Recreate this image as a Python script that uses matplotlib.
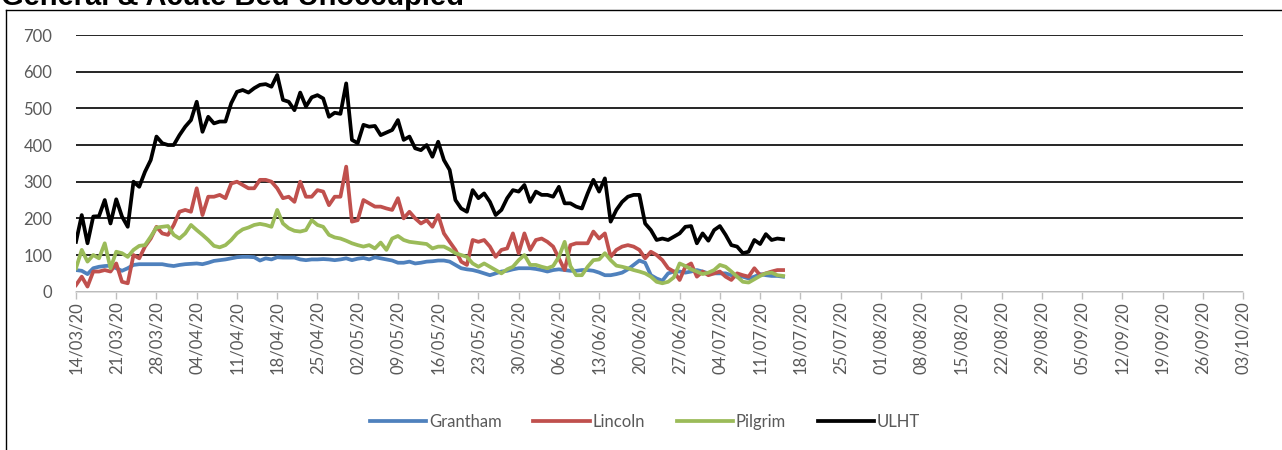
import numpy as np
import pandas as pd
import matplotlib.pyplot as plt
import matplotlib.dates as mdates
from matplotlib.lines import Line2D

# daily unoccupied G&A beds, from 14/03/20
grantham = [59, 57, 48, 64, 68, 70, 71, 64, 57, 64, 73, 75, 75, 75, 75, 75, 72, 70, 73, 75,
            76, 77, 75, 79, 84, 86, 88, 91, 94, 95, 95, 94, 85, 91, 88, 94, 93, 93, 93, 88,
            86, 88, 88, 89, 88, 86, 88, 91, 86, 90, 92, 88, 94, 91, 88, 85, 79, 79, 82, 77,
            79, 82, 83, 85, 85, 82, 73, 64, 61, 59, 55, 50, 45, 50, 55, 57, 61, 64, 64, 64,
            62, 59, 55, 59, 61, 59, 57, 57, 59, 59, 57, 52, 45, 45, 48, 52, 61, 73, 85, 79,
            45, 36, 30, 50, 55, 55, 52, 55, 59, 55, 50, 50, 50, 50, 45, 41, 41, 36, 41, 48,
            45, 43, 43, 41]
lincoln = [18, 41, 14, 55, 55, 59, 55, 77, 27, 23, 100, 91, 123, 145, 177, 159, 155, 182, 218, 223,
           218, 282, 209, 259, 259, 264, 255, 295, 300, 291, 282, 282, 305, 305, 300, 282, 255, 259, 245, 300,
           259, 259, 277, 273, 236, 259, 259, 341, 191, 195, 250, 241, 232, 232, 227, 223, 255, 200, 218, 200,
           186, 195, 177, 209, 159, 136, 114, 82, 73, 141, 136, 141, 123, 95, 114, 118, 159, 105, 159, 114,
           141, 145, 136, 123, 91, 59, 127, 132, 132, 132, 164, 145, 159, 95, 114, 123, 127, 123, 114, 91,
           109, 100, 86, 64, 55, 32, 68, 77, 41, 55, 45, 50, 55, 41, 32, 50, 45, 41, 64, 45,
           50, 55, 59, 59]
pilgrim = [64, 114, 82, 100, 91, 132, 64, 109, 105, 95, 114, 125, 127, 150, 175, 177, 179, 155, 145, 159,
           182, 168, 155, 141, 125, 121, 127, 141, 159, 170, 175, 182, 185, 182, 177, 223, 186, 173, 166, 164,
           168, 195, 182, 177, 155, 148, 145, 139, 132, 127, 123, 127, 118, 134, 114, 145, 152, 141, 136, 134,
           132, 130, 118, 123, 123, 115, 105, 100, 95, 77, 68, 77, 68, 59, 50, 61, 68, 86, 100, 73,
           73, 68, 64, 70, 95, 136, 70, 45, 45, 68, 86, 88, 105, 86, 71, 68, 64, 59, 55, 50,
           41, 27, 23, 27, 39, 77, 70, 61, 55, 48, 52, 59, 73, 68, 55, 41, 27, 25, 34, 43,
           50, 52, 45, 43]
ulht = [136, 209, 132, 205, 206, 250, 186, 252, 205, 177, 300, 286, 327, 359, 423, 405, 400, 400, 427, 450,
        468, 518, 436, 477, 459, 464, 464, 514, 545, 550, 543, 555, 564, 566, 559, 591, 523, 518, 495, 543,
        505, 530, 536, 527, 477, 488, 485, 568, 414, 405, 455, 450, 452, 427, 434, 441, 468, 414, 423, 391,
        386, 400, 368, 409, 359, 332, 250, 227, 218, 277, 255, 268, 245, 209, 223, 255, 277, 273, 291, 245,
        273, 264, 264, 259, 286, 241, 241, 232, 227, 268, 305, 273, 309, 191, 223, 245, 259, 264, 264, 186,
        168, 141, 145, 141, 150, 159, 177, 179, 132, 159, 139, 168, 179, 155, 127, 123, 105, 109, 141, 130,
        157, 141, 145, 143]

names = ["Grantham", "Lincoln", "Pilgrim", "ULHT"]
colors = ["#4F81BD", "#C0504D", "#9BBB59", "#000000"]

dates = pd.date_range("2020-03-14", periods=len(ulht), freq="D")
week_ticks = pd.date_range("2020-03-14", "2020-10-03", freq="7D")

plt.rcParams["font.family"] = ["Lato", "DejaVu Sans"]

fig = plt.figure(figsize=(12.82, 4.5), dpi=100)
ax = fig.add_axes([76 / 1282, 1 - 291.7 / 450, (1243 - 76) / 1282, (291.7 - 35) / 450])

for series, name, c in zip([grantham, lincoln, pilgrim, ulht], names, colors):
    ax.plot(dates, series, color=c, lw=2.7, label=name, solid_joinstyle="round")

ax.set_ylim(0, 700)
ax.set_yticks(np.arange(0, 701, 100))
ax.set_xlim(week_ticks[0], week_ticks[-1])
ax.set_xticks(week_ticks)
ax.xaxis.set_major_formatter(mdates.DateFormatter("%d/%m/%y"))
ax.tick_params(axis="x", rotation=90, colors="#BFBFBF", labelcolor="#595959",
               labelsize=12, length=5, width=1, pad=2)
ax.tick_params(axis="y", length=0, labelcolor="#595959", labelsize=12, pad=17)
ax.grid(axis="y", color="black", lw=1.2)
ax.set_axisbelow(True)
for s in ["top", "right", "left"]:
    ax.spines[s].set_visible(False)
ax.spines["bottom"].set_color("#D9D9D9")
ax.spines["bottom"].set_linewidth(1.2)

fig.legend(loc="center", bbox_to_anchor=(0.503, 1 - 422 / 450), ncol=4, frameon=False,
           fontsize=12, handlelength=3.4, handletextpad=0.15, columnspacing=1.9,
           labelcolor="#595959")

# chart border and cut-off title
fig.add_artist(Line2D([6 / 1282, 6 / 1282], [0, 1 - 9.5 / 450], color="black", lw=1))
fig.add_artist(Line2D([6 / 1282, 1], [1 - 9.5 / 450, 1 - 9.5 / 450], color="black", lw=1))
fig.text(0.001, 1 - 5 / 450, "General & Acute Bed Unoccupied", fontsize=21,
         fontweight="bold", family="Liberation Sans", va="baseline", ha="left")

fig.savefig("out.png", dpi=100)
